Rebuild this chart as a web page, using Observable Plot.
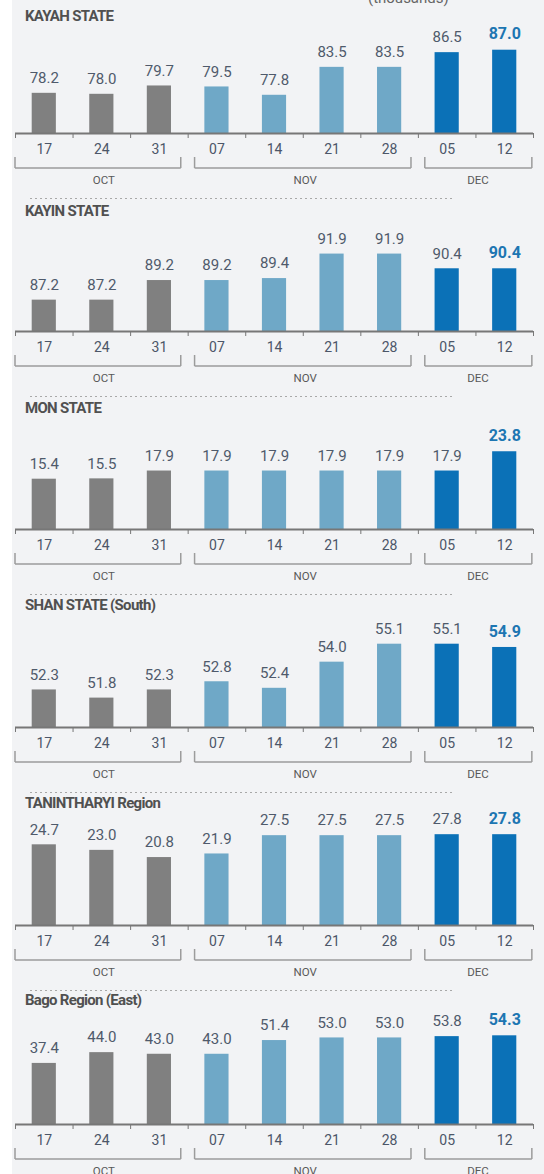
<!DOCTYPE html>
<html>
<head>
<meta charset="utf-8">
<script src="https://cdn.jsdelivr.net/npm/d3@7"></script>
<script src="https://cdn.jsdelivr.net/npm/@observablehq/plot@0.6"></script>
<style>
  html, body { margin: 0; padding: 0; background: #fff; }
  #wrap { position: relative; width: 544px; height: 1174px; overflow: hidden; background: #fff; font-family: Roboto, "Noto Sans", sans-serif; }
  #panelbg { position: absolute; left: 12px; top: 0; width: 532px; height: 1174px; background: #f2f3f5; }
  .title { position: absolute; left: 25px; font-family: Roboto, sans-serif; font-weight: 700; font-size: 15px; line-height: 18px; color: #505050; letter-spacing: -0.7px; white-space: nowrap; }
  .units { position: absolute; left: 368px; top: -9px; font-size: 15px; line-height: 15px; color: #666; }
  .sep { position: absolute; left: 30px; width: 422px; height: 1px; background-image: repeating-linear-gradient(to right, #a8a8a8 0 2px, transparent 2px 5px); }
  .plot { position: absolute; left: 0; }
</style>
</head>
<body>
<div id="wrap"><div id="panelbg"></div><div class="units">(thousands)</div></div>
<script>
// ---- data ----
const dates = ["17", "24", "31", "07", "14", "21", "28", "05", "12"];
const months = ["OCT", "OCT", "OCT", "NOV", "NOV", "NOV", "NOV", "DEC", "DEC"];
const regions = ["KAYAH STATE", "KAYIN STATE", "MON STATE", "SHAN STATE (South)", "TANINTHARYI Region", "Bago Region (East)"];
const kayah = [78.2, 78.0, 79.7, 79.5, 77.8, 83.5, 83.5, 86.5, 87.0];
const kayin = [87.2, 87.2, 89.2, 89.2, 89.4, 91.9, 91.9, 90.4, 90.4];
const mon = [15.4, 15.5, 17.9, 17.9, 17.9, 17.9, 17.9, 17.9, 23.8];
const shan = [52.3, 51.8, 52.3, 52.8, 52.4, 54.0, 55.1, 55.1, 54.9];
const tanintharyi = [24.7, 23.0, 20.8, 21.9, 27.5, 27.5, 27.5, 27.8, 27.8];
const bago = [37.4, 44.0, 43.0, 43.0, 51.4, 53.0, 53.0, 53.8, 54.3];
const yDomains = [[70, 90], [84, 94], [0, 30], [50, 56], [0, 30], [0, 60]];

// ---- layout / style ----
const series = [kayah, kayin, mon, shan, tanintharyi, bago];
const baselines = [133, 331, 529, 727, 925, 1124];
const titleTops = [7, 202, 399, 596, 794, 991];
const monthColors = {OCT: "#808080", NOV: "#6fa8c7", DEC: "#0b71b7"};
const bracketColor = "#9c9c9c";
const n = dates.length;
const boundaries = d3.range(n + 1).map(i => i - 0.5);
const groups = [];
months.forEach((m, i) => {
  const g = groups.find(g => g.m === m);
  if (g) g.last = i; else groups.push({m, first: i, last: i});
});
const gl = g => g.first - 0.5 + (g.first === 0 ? 0 : 0.12);
const gr = g => g.last + 0.5 - (g.last === n - 1 ? 0.02 : 0.12);

const wrap = document.getElementById("wrap");
series.forEach((vals, k) => {
  const lo = yDomains[k][0];
  const rows = vals.map((v, i) => ({i, v, d: dates[i], m: months[i]}));
  const normal = rows.slice(0, n - 1);
  const last = rows.slice(n - 1);

  const t = document.createElement("div");
  t.className = "title";
  t.style.top = titleTops[k] + "px";
  t.textContent = regions[k];
  wrap.appendChild(t);

  const svg = Plot.plot({
    width: 544,
    height: 188,
    marginLeft: 15,
    marginRight: 11,
    marginTop: 20,
    marginBottom: 70,
    x: {domain: [-0.5, n - 0.5], ticks: boundaries, tickSize: 5, tickFormat: () => "", label: null},
    y: {domain: yDomains[k], axis: null},
    color: {domain: Object.keys(monthColors), range: Object.values(monthColors)},
    style: {background: "transparent", color: "#777", fontFamily: "Roboto, sans-serif", overflow: "visible"},
    marks: [
      Plot.rect(rows, {x1: d => d.i - 0.21, x2: d => d.i + 0.21, y1: lo, y2: "v", fill: "m"}),
      Plot.ruleY([lo], {stroke: "#777", strokeWidth: 2}),
      Plot.text(rows, {x: "i", y: lo, text: "d", dy: 16, fontSize: 14, fill: "#4c5668"}),
      Plot.text(normal, {x: "i", y: "v", text: d => d.v.toFixed(1), dy: -15, fontSize: 15, fill: "#4f5a6b"}),
      Plot.text(last, {x: "i", y: "v", text: d => d.v.toFixed(1), dy: -16, fontSize: 16, fontWeight: 700, fill: "#1d76b2"}),
      // brackets
      Plot.rect(groups, {x1: gl, x2: gr, y1: lo, y2: lo, insetTop: -0.75, insetBottom: -0.75, dy: 35, fill: bracketColor}),
      Plot.rect(groups, {x1: gl, x2: gl, y1: lo, y2: lo, insetLeft: -0.75, insetRight: -0.75, insetTop: -11, dy: 35, fill: bracketColor}),
      Plot.rect(groups, {x1: gr, x2: gr, y1: lo, y2: lo, insetLeft: -0.75, insetRight: -0.75, insetTop: -11, dy: 35, fill: bracketColor}),
      Plot.text(groups, {x: g => (g.first + g.last) / 2, y: lo, text: "m", dy: 47, dx: 2, fontSize: 11.5, fill: "#595959"})
    ]
  });
  svg.classList.add("plot");
  svg.style.top = (baselines[k] - 118) + "px";
  wrap.appendChild(svg);

  if (k < series.length - 1) {
    const s = document.createElement("div");
    s.className = "sep";
    s.style.top = (baselines[k] + 65) + "px";
    wrap.appendChild(s);
  }
});
</script>
</body>
</html>
